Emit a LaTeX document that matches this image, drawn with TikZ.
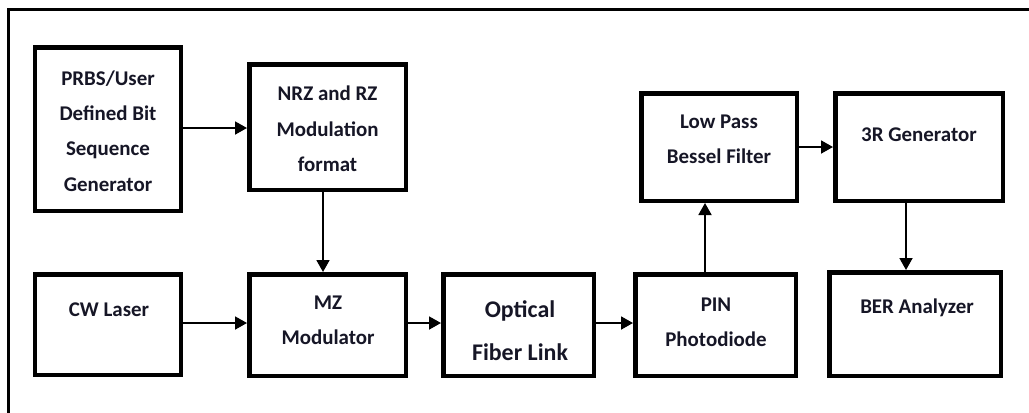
\documentclass[tikz,border=0pt]{standalone}
\usepackage{fontspec}
\setmainfont{Carlito}
\usetikzlibrary{arrows.meta}
\definecolor{ink}{RGB}{22,22,38}
\tikzset{
  box/.style={draw=black, line width=4.5bp, inner sep=0pt, fill=white},
  txt/.style={font=\bfseries\fontsize{21}{35.5}\selectfont, text=ink, align=center, inner sep=0pt},
  bigtxt/.style={font=\bfseries\fontsize{24}{43}\selectfont, text=ink, align=center, inner sep=0pt},
  arr/.style={draw=black, line width=1.8bp, -{Triangle[length=12bp,width=13bp]}},
  frame/.style={draw=black, line width=2.7bp}
}
\begin{document}
\begin{tikzpicture}[x=1bp,y=-1bp]
\useasboundingbox (0,0) rectangle (1029,412);
\begin{scope}
\clip (0,0) rectangle (1029,412);
\coordinate (fbl) at (8.7,430);
\coordinate (ftl) at (8.7,9.7);
\coordinate (ftr) at (1050,9.7);
\draw[frame] (fbl) -- (ftl) -- (ftr);
\end{scope}
% boxes
\node[box, minimum width=145.5bp, minimum height=163.5bp] (prbs) at (108,129) {};
\node[box, minimum width=156.5bp, minimum height=125.5bp] (nrz) at (327.5,127) {};
\node[box, minimum width=145.5bp, minimum height=100.5bp] (cw) at (108,324.5) {};
\node[box, minimum width=156.5bp, minimum height=101.5bp] (mz) at (327.5,325) {};
\node[box, minimum width=150.5bp, minimum height=101.5bp] (opt) at (518.5,325) {};
\node[box, minimum width=160.5bp, minimum height=101.5bp] (pin) at (715.5,325) {};
\node[box, minimum width=155.5bp, minimum height=107.5bp] (lp) at (719,147) {};
\node[box, minimum width=167.5bp, minimum height=107.5bp] (r3) at (919,147) {};
\node[box, minimum width=171.5bp, minimum height=103.5bp] (ber) at (915,324) {};
% texts
\node[txt] (tprbs) at (108,131) {PRBS/User\\Defined Bit\\Sequence\\Generator};
\node[txt] (tnrz) at (327.5,129) {NRZ and RZ\\Modulation\\format};
\node[txt] (tcw) at (109,310) {CW Laser};
\node[txt] (tmz) at (328,320) {MZ\\Modulator};
\node[bigtxt] (topt) at (520,331) {Optical\\Fiber Link};
\node[txt] (tpin) at (716,322) {PIN\\Photodiode};
\node[txt] (tlp) at (719,139) {Low Pass\\Bessel Filter};
\node[txt] (tr3) at (919,135) {3R Generator};
\node[txt] (tber) at (917,308) {BER Analyzer};
% connectors
\draw[arr] ([yshift=1bp]prbs.east) -- ([yshift=1bp]prbs.east -| nrz.west);
\draw[arr] ([xshift=-4.5bp]nrz.south) -- ([xshift=-4.5bp]nrz.south |- mz.north);
\draw[arr] ([yshift=1.5bp]cw.east) -- ([yshift=1.5bp]cw.east -| mz.west);
\draw[arr] ([yshift=2bp]mz.east) -- ([yshift=2bp]mz.east -| opt.west);
\draw[arr] ([yshift=2bp]opt.east) -- ([yshift=2bp]opt.east -| pin.west);
\draw[arr] ([xshift=-10.5bp]pin.north) -- ([xshift=-10.5bp]pin.north |- lp.south);
\draw[arr] (lp.east) -- (lp.east -| r3.west);
\draw[arr] ([xshift=-13bp]r3.south) -- ([xshift=-13bp]r3.south |- ber.north);
\end{tikzpicture}
\end{document}
